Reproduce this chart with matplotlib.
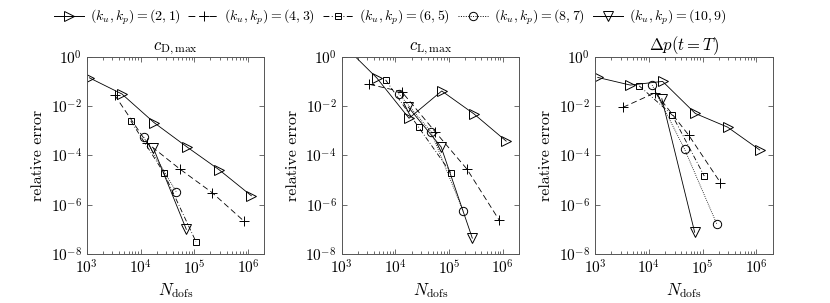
import matplotlib
matplotlib.use("Agg")
import matplotlib.pyplot as plt
from matplotlib.lines import Line2D
from matplotlib.ticker import LogLocator, NullLocator, NullFormatter

plt.rcParams["font.family"] = ["cmr10", "DejaVu Serif"]
plt.rcParams["mathtext.fontset"] = "cm"
plt.rcParams["axes.formatter.use_mathtext"] = True
plt.rcParams["font.size"] = 10

# degrees of freedom per refinement level, one list per (k_u, k_p)
ndofs_21 = [1.12e3, 4.5e3, 1.8e4, 7.3e4, 2.9e5, 1.15e6]
ndofs_43 = [3.3e3, 1.32e4, 5.5e4, 2.14e5, 8.5e5]
ndofs_65 = [6.6e3, 2.7e4, 1.07e5]
ndofs_87 = [1.15e4, 4.6e4, 1.82e5]
ndofs_109 = [1.74e4, 7.1e4, 2.7e5]

# relative error of c_D,max
cd_21 = [1.4e-1, 3.1e-2, 2.1e-3, 2.2e-4, 2.6e-5, 2.3e-6]
cd_43 = [2.8e-2, 3.2e-4, 2.7e-5, 3.1e-6, 2.1e-7]
cd_65 = [2.5e-3, 2.0e-5, 3.2e-8]
cd_87 = [5.4e-4, 3.4e-6]
cd_109 = [1.95e-4, 1.0e-7]

# relative error of c_L,max
cl_21 = [2.8, 1.4e-1, 3.2e-3, 4.1e-2, 4.8e-3, 3.8e-4]
cl_43 = [7.6e-2, 3.8e-2, 9.1e-4, 2.8e-5, 2.4e-7]
cl_65 = [1.15e-1, 1.4e-3, 2.0e-5]
cl_87 = [3.2e-2, 9.1e-4, 5.5e-7]
cl_109 = [9.1e-3, 2.2e-4, 4.4e-8]

# relative error of delta p(t=T)
dp_21 = [1.45e-1, 7.1e-2, 1.0e-1, 5.0e-3, 1.4e-3, 1.66e-4]
dp_43 = [8.9e-3, 3.5e-2, 6.6e-4, 7.8e-6]
dp_65 = [6.6e-2, 4.4e-3, 1.45e-5]
dp_87 = [7.1e-2, 1.8e-4, 1.7e-7]
dp_109 = [2.0e-2, 7.6e-8]

titles = [r"$c_{\mathrm{D,max}}$", r"$c_{\mathrm{L,max}}$", r"$\Delta p(t = T)$"]
labels = [r"$(k_u, k_p) = (2,1)$", r"$(k_u, k_p) = (4,3)$", r"$(k_u, k_p) = (6,5)$",
          r"$(k_u, k_p) = (8,7)$", r"$(k_u, k_p) = (10,9)$"]

ndofs = [ndofs_21, ndofs_43, ndofs_65, ndofs_87, ndofs_109]
panels = [
    [cd_21, cd_43, cd_65, cd_87, cd_109],
    [cl_21, cl_43, cl_65, cl_87, cl_109],
    [dp_21, dp_43, dp_65, dp_87, dp_109],
]

styles = [
    dict(ls="-", marker=">", ms=7.5),
    dict(ls=(0, (7, 4)), marker="+", ms=7),
    dict(ls=(0, (6, 2.5, 1, 2.5)), marker="s", ms=4.5),
    dict(ls=(0, (1, 1.5)), marker="o", ms=6),
    dict(ls="-", marker="v", ms=7.5),
]

fig = plt.figure(figsize=(8.3, 3.03), dpi=100)
lefts = [0.1045, 0.4115, 0.7170]
spine_col = "#555555"

for left, title, series in zip(lefts, titles, panels):
    ax = fig.add_axes([left, 0.1617, 0.2139, 0.651])
    for n, err, st in zip(ndofs, series, styles):
        ax.plot(n[:len(err)], err, color="black", lw=0.6, mfc="none", mec="black",
                mew=0.7, **st)
    ax.set_xscale("log")
    ax.set_yscale("log")
    ax.set_xlim(1e3, 2e6)
    ax.set_ylim(1e-8, 1)
    ax.set_xticks([1e3, 1e4, 1e5, 1e6])
    ax.set_yticks([1e-8, 1e-6, 1e-4, 1e-2, 1])
    ax.xaxis.set_minor_locator(LogLocator(base=10, subs=range(2, 10), numticks=20))
    ax.xaxis.set_minor_formatter(NullFormatter())
    ax.yaxis.set_minor_locator(NullLocator())
    ax.tick_params(which="both", direction="in", top=True, right=True,
                   color=spine_col, width=0.6, labelsize=11)
    ax.tick_params(which="major", length=3.5)
    ax.tick_params(which="minor", length=2)
    for sp in ax.spines.values():
        sp.set_color(spine_col)
        sp.set_linewidth(0.7)
    ax.set_title(title, fontsize=12, pad=3)
    ax.set_xlabel(r"$N_{\mathrm{dofs}}$", fontsize=12, labelpad=3)
    ax.set_ylabel("relative error", fontsize=11.5, labelpad=4)

handles = [Line2D([], [], color="black", lw=0.7, mfc="none", mec="black", mew=0.7, **st)
           for st in styles]
fig.legend(handles, labels, loc="upper center", bbox_to_anchor=(0.47, 1.015), ncol=5,
           frameon=False, fontsize=10, handlelength=2.2, handletextpad=0.4,
           columnspacing=0.55)

fig.savefig("out.png", dpi=100)
